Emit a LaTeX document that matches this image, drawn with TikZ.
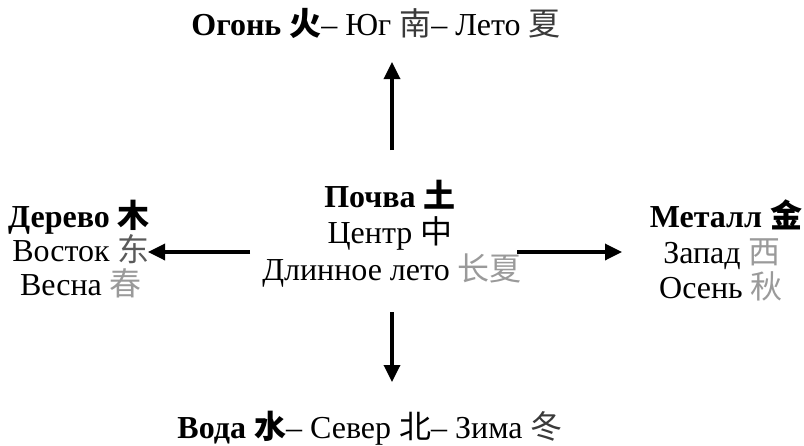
\documentclass[tikz,border=0pt]{standalone}
\usepackage{fontspec}
\setmainfont{Liberation Serif}
\newfontfamily\cjk{Noto Sans CJK SC}
\usetikzlibrary{arrows.meta}
\definecolor{gdark}{HTML}{3A3A3A}
\definecolor{gmid}{HTML}{5A5A5A}
\definecolor{glight}{HTML}{9A9A9A}
\begin{document}
\begin{tikzpicture}[x=1pt,y=-1pt,
  txt/.style={font=\fontsize{32}{38}\selectfont, inner sep=0pt, anchor=base},
  arr/.style={line width=3.4pt, -{Triangle[length=17pt,width=16pt]}}]
\useasboundingbox (0,0) rectangle (804,445);
% top
\node[txt] (fire) at (376,35) {\textbf{Огонь} {\cjk\bfseries 火}– Юг {\cjk\color{gdark}南}– Лето {\cjk\color{gdark}夏}};
% center
\node[txt] (soil) at (390,207) {\textbf{Почва} {\cjk\bfseries 土}};
\node[txt] (centre) at (390,243) {Центр {\cjk 中}};
\node[txt] (longsummer) at (392,280) {Длинное лето {\cjk\color{glight}长夏}};
% left
\node[txt] (wood) at (79,227) {\textbf{Дерево} {\cjk\bfseries 木}};
\node[txt] (east) at (81,261) {Восток {\cjk\color{gmid}东}};
\node[txt] (spring) at (81,295) {Весна {\cjk\color{glight}春}};
% right
\node[txt] (metal) at (726,227) {\textbf{Металл} {\cjk\bfseries 金}};
\node[txt] (west) at (722,263) {Запад {\cjk\color{glight}西}};
\node[txt] (autumn) at (721,298) {Осень {\cjk\color{glight}秋}};
% bottom
\node[txt] (water) at (370,438) {\textbf{Вода} {\cjk\bfseries 水}– Север {\cjk 北}– Зима {\cjk\color{gdark}冬}};
% arrow ends
\coordinate (upS) at (392,150);
\coordinate (upT) at (392,62);
\coordinate (dnS) at (392,312);
\coordinate (dnT) at (392,382);
\coordinate (lfS) at (250,252);
\coordinate (lfT) at (148,252);
\coordinate (rtS) at (517,252);
\coordinate (rtT) at (622,252);
\draw[arr] (upS) -- (upT);
\draw[arr] (dnS) -- (dnT);
\draw[arr] (lfS) -- (lfT);
\draw[arr] (rtS) -- (rtT);
\end{tikzpicture}
\end{document}
